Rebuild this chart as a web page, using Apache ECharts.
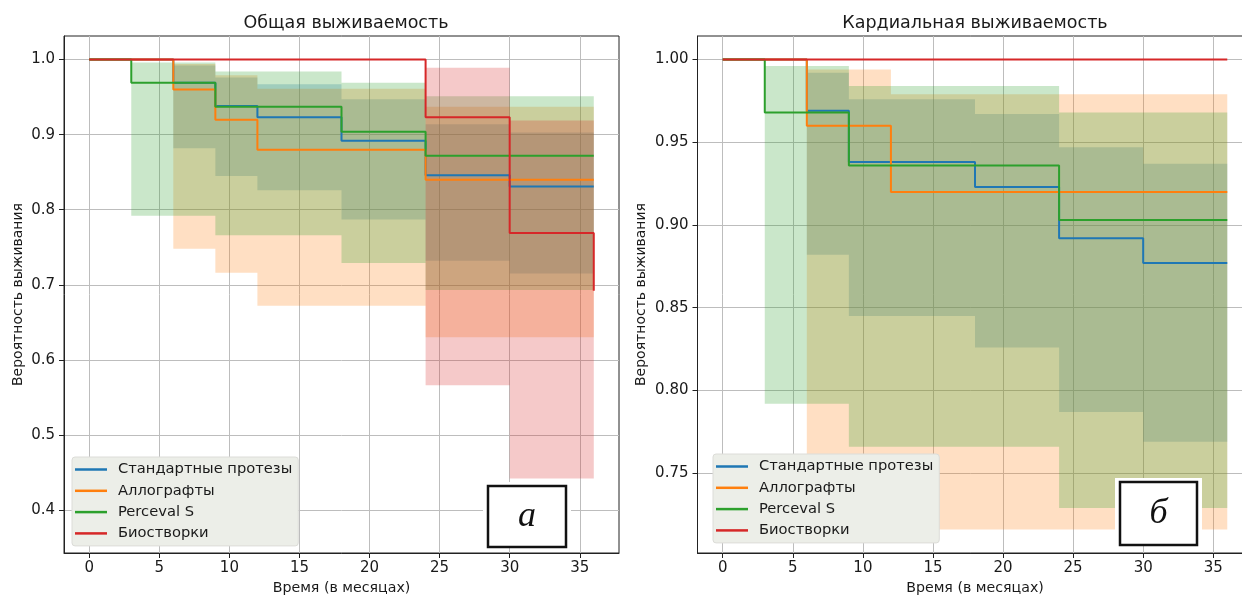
<!DOCTYPE html>
<html><head><meta charset="utf-8">
<script src="https://cdn.jsdelivr.net/npm/echarts@6/dist/echarts.min.js"></script>
<style>html,body{margin:0;padding:0;background:#fff}#c{width:1242px;height:597px}</style>
</head><body><div id="c"></div>
<script>
// ---------- data ----------
const seriesNames = ['Стандартные протезы', 'Аллографты', 'Perceval S', 'Биостворки'];
const titles = ['Общая выживаемость', 'Кардиальная выживаемость'];
const xName = 'Время (в месяцах)';
const yName = 'Вероятность выживания';
const xTicks = [0, 5, 10, 15, 20, 25, 30, 35];
const yTicksA = [0.4, 0.5, 0.6, 0.7, 0.8, 0.9, 1.0];
const yTicksB = [0.75, 0.80, 0.85, 0.90, 0.95, 1.00];
const panelLetters = ['а', 'б'];

// Panel a: overall survival
const aStdT = [0, 6, 9, 12, 18, 24, 30, 36];
const aStdS = [1, 0.969, 0.938, 0.923, 0.892, 0.846, 0.831, 0.831];
const aStdLo = [1, 0.882, 0.845, 0.826, 0.787, 0.732, 0.715, 0.715];
const aStdHi = [1, 0.992, 0.976, 0.967, 0.947, 0.914, 0.903, 0.903];

const aAlloT = [0, 6, 9, 12, 24, 36];
const aAlloS = [1, 0.96, 0.92, 0.88, 0.84, 0.84];
const aAlloLo = [1, 0.748, 0.716, 0.672, 0.63, 0.63];
const aAlloHi = [1, 0.994, 0.979, 0.961, 0.937, 0.937];

const aPercT = [0, 3, 9, 18, 24, 36];
const aPercS = [1, 0.969, 0.937, 0.904, 0.872, 0.872];
const aPercLo = [1, 0.792, 0.766, 0.729, 0.693, 0.693];
const aPercHi = [1, 0.996, 0.984, 0.969, 0.951, 0.951];

const aBioT = [0, 24, 30, 36];
const aBioS = [1, 0.923, 0.769, 0.692];
const aBioLo = [1, 0.566, 0.442, 0.373];
const aBioHi = [1, 0.989, 0.919, 0.872];

// Panel b: cardiac survival
const bStdT = [0, 6, 9, 18, 24, 30, 36];
const bStdS = [1, 0.969, 0.938, 0.923, 0.892, 0.877, 0.877];
const bStdLo = [1, 0.882, 0.845, 0.826, 0.787, 0.769, 0.769];
const bStdHi = [1, 0.992, 0.976, 0.967, 0.947, 0.937, 0.937];

const bAlloT = [0, 6, 12, 36];
const bAlloS = [1, 0.96, 0.92, 0.92];
const bAlloLo = [1, 0.748, 0.716, 0.716];
const bAlloHi = [1, 0.994, 0.979, 0.979];

const bPercT = [0, 3, 9, 24, 36];
const bPercS = [1, 0.968, 0.936, 0.903, 0.903];
const bPercLo = [1, 0.792, 0.766, 0.729, 0.729];
const bPercHi = [1, 0.996, 0.984, 0.968, 0.968];

const bBioT = [0, 36];
const bBioS = [1, 1];
const bBioLo = [1, 1];
const bBioHi = [1, 1];

const colors = ['#1f77b4', '#ff7f0e', '#2ca02c', '#d62728'];

// ---------- build ----------
function rgba(hex, a) {
  const n = parseInt(hex.slice(1), 16);
  return 'rgba(' + ((n >> 16) & 255) + ',' + ((n >> 8) & 255) + ',' + (n & 255) + ',' + a + ')';
}
function bandSeries(g, t, lo, hi, color) {
  return {
    type: 'custom', xAxisIndex: g, yAxisIndex: g, silent: true, clip: true, z: 2,
    data: t.map((x, i) => [x, lo[i], hi[i]]),
    encode: { x: 0, y: [1, 2] },
    renderItem: function (params, api) {
      if (params.dataIndex !== 0) return null;
      const n = t.length, up = [], dn = [];
      for (let i = 0; i < n - 1; i++) {
        up.push(api.coord([t[i], hi[i]]));
        up.push(api.coord([t[i + 1], hi[i]]));
        dn.push(api.coord([t[i], lo[i]]));
        dn.push(api.coord([t[i + 1], lo[i]]));
      }
      up.push(api.coord([t[n - 1], hi[n - 1]]));
      dn.push(api.coord([t[n - 1], lo[n - 1]]));
      const pts = up.concat(dn.reverse());
      return { type: 'polygon', shape: { points: pts }, style: { fill: rgba(color, 0.25) } };
    }
  };
}
function lineSeries(g, name, t, s, color) {
  return {
    type: 'line', name: name, xAxisIndex: g, yAxisIndex: g, step: 'end', z: 3,
    color: color, showSymbol: false, symbol: 'none', animation: false,
    data: t.map((x, i) => [x, s[i]]),
    lineStyle: { color: color, width: 2 }, itemStyle: { color: color }
  };
}

const panels = [
  [[aStdT, aStdS, aStdLo, aStdHi], [aAlloT, aAlloS, aAlloLo, aAlloHi], [aPercT, aPercS, aPercLo, aPercHi], [aBioT, aBioS, aBioLo, aBioHi]],
  [[bStdT, bStdS, bStdLo, bStdHi], [bAlloT, bAlloS, bAlloLo, bAlloHi], [bPercT, bPercS, bPercLo, bPercHi], [bBioT, bBioS, bBioLo, bBioHi]]
];
const series = [];
panels.forEach((p, g) => {
  p.forEach((d, k) => {
    series.push(bandSeries(g, d[0], d[2], d[3], colors[k]));
    series.push(lineSeries(g, seriesNames[k], d[0], d[1], colors[k]));
  });
});

const FONT = 'DejaVu Sans';
const txt = '#1a1a1a';
function xAxis(g) {
  return {
    type: 'value', gridIndex: g, min: -1.8, max: 37.8,
    name: xName, nameLocation: 'middle', nameGap: 28,
    nameTextStyle: { fontFamily: FONT, fontSize: 14.2, color: txt },
    axisLine: { show: true, onZero: false, lineStyle: { color: '#222', width: 1 } },
    axisTick: { show: true, customValues: xTicks, length: 5, lineStyle: { color: '#222' } },
    axisLabel: { customValues: xTicks, fontFamily: FONT, fontSize: 15, color: txt, margin: 8 },
    splitLine: { show: true, lineStyle: { color: '#bdbdbd', width: 1 } }
  };
}
function yAxis(g, min, max, ticks, dec) {
  return {
    type: 'value', gridIndex: g, min: min, max: max,
    name: yName, nameLocation: 'middle', nameRotate: 90, nameGap: g === 0 ? 39 : 49,
    nameTextStyle: { fontFamily: FONT, fontSize: 14, color: txt },
    axisLine: { show: true, onZero: false, lineStyle: { color: '#222', width: 1 } },
    axisTick: { show: true, customValues: ticks, length: 5, lineStyle: { color: '#222' } },
    axisLabel: { customValues: ticks, fontFamily: FONT, fontSize: 15, color: txt, margin: 9,
      formatter: v => Number(v).toFixed(dec) },
    splitLine: { show: true, lineStyle: { color: '#bdbdbd', width: 1 } }
  };
}
function legend(left, top) {
  return {
    data: seriesNames, orient: 'vertical', left: left, top: top,
    icon: 'rect', itemWidth: 32, itemHeight: 2.5, itemGap: 4.3,
    padding: [4, 6, 4, 3], backgroundColor: '#eceee8', borderColor: '#dcdcd8', borderWidth: 1, borderRadius: 3,
    selectedMode: false,
    textStyle: { fontFamily: FONT, fontSize: 14.7, color: txt, lineHeight: 17, padding: [0, 0, 0, 6] }
  };
}
function letterBox(x, y, w, h, letter) {
  return [
    { type: 'rect', z: 100, shape: { x: x - 5, y: y - 4, width: w + 10, height: h + 5 }, style: { fill: '#fff' } },
    { type: 'rect', z: 101, shape: { x: x, y: y, width: w, height: h }, style: { fill: '#fff', stroke: '#111', lineWidth: 2.5 } },
    { type: 'text', z: 102, x: x + w / 2, y: y + h / 2,
      style: { text: letter, font: 'italic 36px "Liberation Serif", "DejaVu Serif", serif', fill: '#111', align: 'center', verticalAlign: 'middle' } }
  ];
}

const option = {
  animation: false,
  backgroundColor: '#fff',
  title: [
    { text: titles[0], left: 341, top: 9, textAlign: 'center', textStyle: { fontFamily: FONT, fontSize: 17.5, fontWeight: 'normal', color: txt } },
    { text: titles[1], left: 970, top: 9, textAlign: 'center', textStyle: { fontFamily: FONT, fontSize: 17.5, fontWeight: 'normal', color: txt } }
  ],
  grid: [
    { left: 64, top: 36, width: 555, height: 517, outerBoundsMode: 'none', containLabel: false, show: true, borderColor: '#222', borderWidth: 1, backgroundColor: 'transparent' },
    { left: 697.5, top: 36, width: 555, height: 517, outerBoundsMode: 'none', containLabel: false, show: true, borderColor: '#222', borderWidth: 1, backgroundColor: 'transparent' }
  ],
  xAxis: [xAxis(0), xAxis(1)],
  yAxis: [yAxis(0, 0.3427, 1.0314, yTicksA, 1), yAxis(1, 0.7018, 1.0142, yTicksB, 2)],
  legend: [legend(72, 457), legend(713, 454)],
  series: series,
  graphic: [].concat(letterBox(488, 486, 78, 61, panelLetters[0]), letterBox(1120, 482, 77, 63, panelLetters[1]))
};
const chart = echarts.init(document.getElementById('c'), null, { renderer: 'canvas' });
chart.setOption(option);
</script></body></html>
